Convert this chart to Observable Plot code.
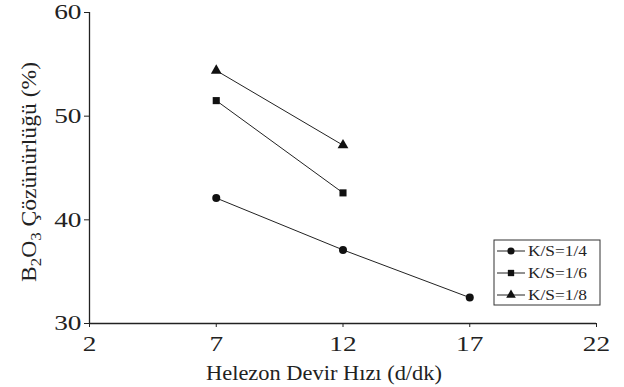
<!DOCTYPE html>
<html>
<head>
<meta charset="utf-8">
<script src="https://cdn.jsdelivr.net/npm/d3@7"></script>
<script src="https://cdn.jsdelivr.net/npm/@observablehq/plot@0.6"></script>
<style>
  html, body { margin: 0; padding: 0; background: #fff; }
  #chart { position: relative; width: 624px; height: 387px; }
</style>
</head>
<body>
<div id="chart"></div>
<script>
const speeds = [7, 12, 17];
const series = ["K/S=1/4", "K/S=1/6", "K/S=1/8"];
const symbols = ["circle", "square", "triangle"];
const ks14 = [42.1, 37.1, 32.5];
const ks16 = [51.5, 42.6];
const ks18 = [54.4, 47.2];
const xTicks = [2, 7, 12, 17, 22];
const yTicks = [30, 40, 50, 60];

const data = [];
[ks14, ks16, ks18].forEach((vals, i) => {
  vals.forEach((v, j) => data.push({ s: series[i], x: speeds[j], y: v }));
});

const chart = Plot.plot({
  width: 624,
  height: 387,
  marginLeft: 89,
  marginRight: 28,
  marginTop: 12,
  marginBottom: 64,
  style: { fontFamily: "Liberation Serif", fontSize: "21px", color: "#222", background: "#fff" },
  x: { domain: [2, 22], ticks: xTicks, label: null },
  y: { domain: [30, 60], ticks: yTicks, label: null },
  symbol: { domain: series, range: symbols },
  marks: [
    Plot.axisX({ ticks: xTicks, tickSize: 4, tickPadding: 9, label: null, fontSize: 21 }),
    Plot.axisY({ ticks: yTicks, tickSize: 5, tickPadding: 3, label: null, fontSize: 21 }),
    Plot.ruleY([30], { stroke: "#222", strokeWidth: 1.3 }),
    Plot.ruleX([2], { stroke: "#222", strokeWidth: 1.3 }),
    Plot.line(data, { x: "x", y: "y", z: "s", stroke: "#222", strokeWidth: 1 }),
    Plot.dot(data, { x: "x", y: "y", symbol: "s", fill: "#111", stroke: "none", r: 4 })
  ]
});

document.getElementById("chart").appendChild(chart);

const svg = d3.select(chart);

// widen tick labels to match the stretched serif digits of the original
svg.selectAll("g[aria-label='x-axis tick label'] text, g[aria-label='y-axis tick label'] text")
  .each(function () {
    const w = this.getComputedTextLength();
    if (w > 0) d3.select(this).attr("textLength", w * 1.3).attr("lengthAdjust", "spacingAndGlyphs");
  });

// x axis title
svg.append("text")
  .attr("x", 324).attr("y", 380)
  .attr("textLength", 236).attr("lengthAdjust", "spacingAndGlyphs")
  .attr("text-anchor", "middle")
  .attr("font-family", "Liberation Serif").attr("font-size", 21).attr("fill", "#222")
  .text("Helezon Devir Hızı (d/dk)");

// y axis title with subscripts
const yt = svg.append("text")
  .attr("transform", "translate(36,172) rotate(-90)")
  .attr("text-anchor", "middle")
  .attr("textLength", 220).attr("lengthAdjust", "spacingAndGlyphs")
  .attr("font-family", "Liberation Serif").attr("font-size", 21).attr("fill", "#222");
yt.append("tspan").text("B");
yt.append("tspan").attr("baseline-shift", "-30%").attr("font-size", 15).text("2");
yt.append("tspan").text("O");
yt.append("tspan").attr("baseline-shift", "-30%").attr("font-size", 15).text("3");
yt.append("tspan").text(" Çözünürlüğü (%)");

// legend
const lg = svg.append("g").attr("transform", "translate(494,240)");
lg.append("rect").attr("width", 106).attr("height", 65)
  .attr("fill", "#fff").attr("stroke", "#333").attr("stroke-width", 1);
series.forEach((s, i) => {
  const cy = 11 + i * 22;
  lg.append("line").attr("x1", 3).attr("x2", 31).attr("y1", cy).attr("y2", cy)
    .attr("stroke", "#222").attr("stroke-width", 1);
  lg.append("path")
    .attr("d", d3.symbol(d3["symbol" + symbols[i][0].toUpperCase() + symbols[i].slice(1)], 40)())
    .attr("transform", `translate(17,${cy})`).attr("fill", "#111");
  lg.append("text").attr("x", 34).attr("y", cy + 5)
    .attr("textLength", 59).attr("lengthAdjust", "spacingAndGlyphs")
    .attr("text-anchor", "start")
    .attr("font-family", "Liberation Serif").attr("font-size", 15).attr("fill", "#222")
    .text(s);
});
</script>
</body>
</html>
